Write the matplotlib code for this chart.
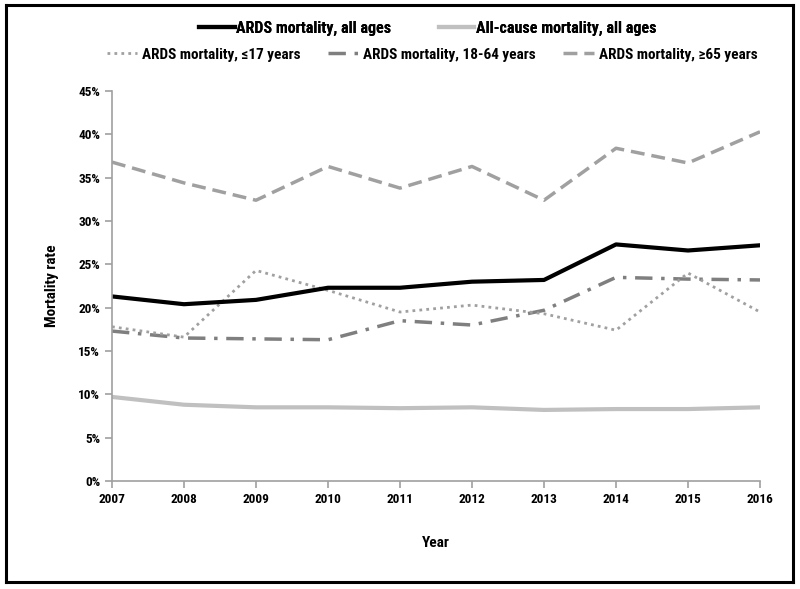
import matplotlib
matplotlib.use("Agg")
import matplotlib.pyplot as plt
from matplotlib.lines import Line2D
from matplotlib.ticker import FuncFormatter
from matplotlib import font_manager

years = [2007, 2008, 2009, 2010, 2011, 2012, 2013, 2014, 2015, 2016]
ards_all = [21.3, 20.4, 20.9, 22.3, 22.3, 23.0, 23.2, 27.3, 26.6, 27.2]
allcause_all = [9.7, 8.8, 8.5, 8.5, 8.4, 8.5, 8.2, 8.3, 8.3, 8.5]
ards_le17 = [17.8, 16.6, 24.3, 22.0, 19.5, 20.3, 19.3, 17.4, 24.0, 19.5]
ards_18_64 = [17.3, 16.5, 16.4, 16.3, 18.5, 18.0, 19.7, 23.5, 23.3, 23.2]
ards_ge65 = [36.8, 34.4, 32.4, 36.3, 33.8, 36.3, 32.4, 38.4, 36.7, 40.3]

names = {f.name for f in font_manager.fontManager.ttflist}
fam = [f for f in ['Liberation Sans Narrow', 'Roboto Condensed', 'Liberation Sans'] if f in names]
plt.rcParams['font.family'] = fam[:1] + ['DejaVu Sans']
plt.rcParams['font.weight'] = 'bold'

fig = plt.figure(figsize=(8, 5.89), dpi=100)

# outer frame drawn as the spines of an empty axes
frame = fig.add_axes([6 / 800, 1 - 582 / 589, 787 / 800, 577 / 589], zorder=-1)
frame.set_xticks([])
frame.set_yticks([])
frame.patch.set_alpha(0)
for s in frame.spines.values():
    s.set_color('black')
    s.set_linewidth(2.2)

ax = fig.add_axes([0.14, 0.1834, 0.81, 0.662])
ax.patch.set_alpha(0)

ax.plot(years, ards_ge65, color='#a0a0a0', lw=2.5, ls=(0, (4, 2)))
ax.plot(years, ards_18_64, color='#7f7f7f', lw=2.5, ls=(0, (5, 2.5, 1, 2.5)))
ax.plot(years, ards_le17, color='#a0a0a0', lw=2, ls=(0, (1, 1.5)))
ax.plot(years, allcause_all, color='#c0c0c0', lw=3)
ax.plot(years, ards_all, color='black', lw=3)

ax.set_xlim(2007, 2016)
ax.set_ylim(0, 45)
ax.set_xticks(years)
ax.set_yticks(range(0, 46, 5))
ax.yaxis.set_major_formatter(FuncFormatter(lambda v, p: f"{int(v)}%"))
for s in ['top', 'right']:
    ax.spines[s].set_visible(False)
for s in ['left', 'bottom']:
    ax.spines[s].set_color('#a0a0a0')
    ax.spines[s].set_linewidth(1.2)
ax.tick_params(colors='#a0a0a0', labelcolor='black', labelsize=9.5, length=5, width=1.2)
for lab in ax.get_xticklabels() + ax.get_yticklabels():
    lab.set_fontweight('bold')
ax.set_xlabel('Year', fontsize=11, fontweight='bold', labelpad=22)
ax.set_ylabel('Mortality rate', fontsize=11, fontweight='bold', labelpad=14)

h1 = [Line2D([], [], color='black', lw=3),
      Line2D([], [], color='#c0c0c0', lw=3)]
leg1 = fig.legend(h1, ['ARDS mortality, all ages', 'All-cause mortality, all ages'],
                  loc='center', bbox_to_anchor=(0.535, 0.952), ncol=2, frameon=False,
                  prop={'size': 11.5, 'weight': 'bold'}, handlelength=2.2,
                  handletextpad=0.1, columnspacing=3.0)
h2 = [Line2D([], [], color='#a0a0a0', lw=2, ls=(0, (1, 1.5))),
      Line2D([], [], color='#7f7f7f', lw=2.5, ls=(0, (5, 2.5, 1, 2.5))),
      Line2D([], [], color='#a0a0a0', lw=2.5, ls=(0, (4, 2)))]
leg2 = fig.legend(h2, ['ARDS mortality, \u226417 years', 'ARDS mortality, 18-64 years',
                       'ARDS mortality, \u226565 years'],
                  loc='center', bbox_to_anchor=(0.54, 0.907), ncol=3, frameon=False,
                  prop={'size': 11, 'weight': 'bold'}, handlelength=2.0,
                  handletextpad=0.3, columnspacing=1.8)
fig.add_artist(leg1)

fig.savefig('out.png', dpi=100)
